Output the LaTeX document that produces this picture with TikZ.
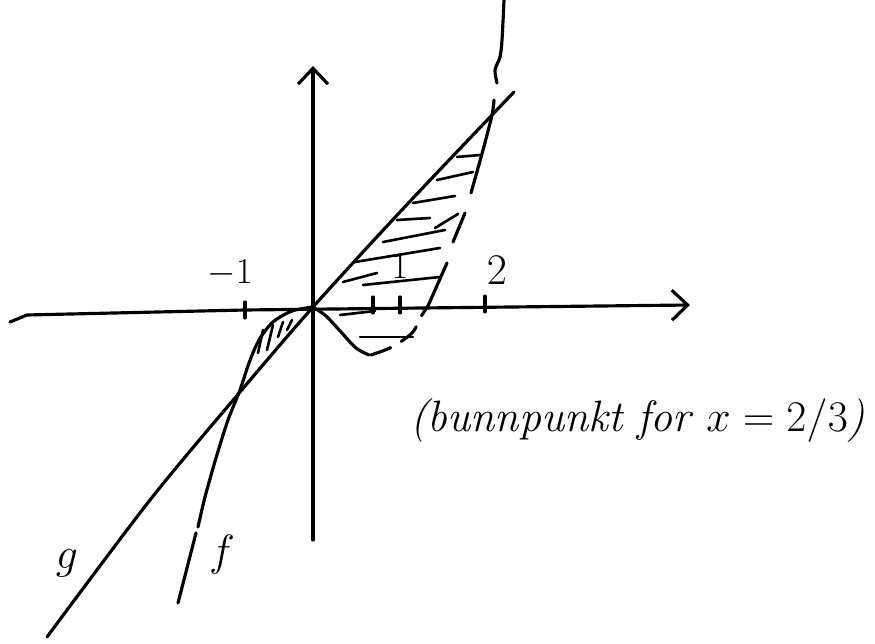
\documentclass[tikz,border=0pt]{standalone}
\usetikzlibrary{arrows.meta}
\begin{document}
\begin{tikzpicture}[x=0.02cm, y=-0.02cm, line cap=round, line join=round,
  >={Straight Barb[length=9pt,width=17pt,line width=1.8pt]},
  curve/.style={line width=1.8pt},
  hatch/.style={line width=1.5pt},
  lbl/.style={inner sep=0pt, font=\fontsize{22}{26}\selectfont}]
\useasboundingbox (0,0) rectangle (875,644);

% axes
\draw[curve,->] (10,322) -- (27,315) -- (245,310) -- (690,305);
\draw[curve,->] (313,540) -- (313,66);

% ticks
\foreach \tx/\ty in {245/311, 373/306, 400/306, 485/305}
  \draw[curve] (\tx,\ty-9) -- (\tx,\ty+7);

\node[lbl] (mone) at (230,273) {$-1$};
\node[lbl] (one) at (400,267) {$1$};
\node[lbl, font=\fontsize{26}{30}\selectfont] (two) at (497,270) {$2$};

% g
\draw[curve] plot[smooth] coordinates {(47,637) (150,500) (240,392) (313,307) (400,212) (492,115) (514,92)};
\node[lbl, font=\fontsize{28}{32}\selectfont] (glab) at (67,563) {$g$};

% f
\draw[curve] (178,603) -- (196,533);
\draw[curve] plot[smooth] coordinates {(198,527) (205,497) (216,458) (228,420) (240,390) (249,363) (259,340) (273,322) (292,311) (313,307)};
\draw[curve] plot[smooth] coordinates {(313,307) (326,316) (341,332) (356,348) (369,355)};
\draw[curve, dash pattern=on 12pt off 7pt] plot[smooth] coordinates {(371,355) (392,347) (412,333) (422,315) (428,306)};
\draw[curve] (428,306) -- (447,263);
\draw[curve] (453,242) -- (465,213);
\draw[curve] plot[smooth] coordinates {(471,193) (483,150) (492,115) (494,100)};
\draw[curve] plot[smooth] coordinates {(497,83) (495,70) (500,57) (502,40) (504,0)};
\node[lbl, font=\fontsize{30}{34}\selectfont] (flab) at (222,555) {$f$};

% hatching right
\foreach \ax/\ay/\bx/\by in {457/157/480/155, 437/180/473/172, 413/203/455/196,
  397/220/430/218, 435/228/458/214, 383/242/445/230, 355/262/440/248,
  343/282/377/273, 363/285/440/277, 340/315/375/311, 360/337/413/337}
  \draw[hatch] (\ax,\ay) -- (\bx,\by);

% hatching left
\foreach \ax/\ay/\bx/\by in {258/353/263/330, 267/350/273/325, 278/337/283/322, 287/330/292/320}
  \draw[hatch] (\ax,\ay) -- (\bx,\by);

\node[lbl, anchor=base west, font=\fontsize{25}{29}\selectfont\itshape] (note) at (410,432) {(bunnpunkt for $x = 2/3$)};
\end{tikzpicture}
\end{document}
